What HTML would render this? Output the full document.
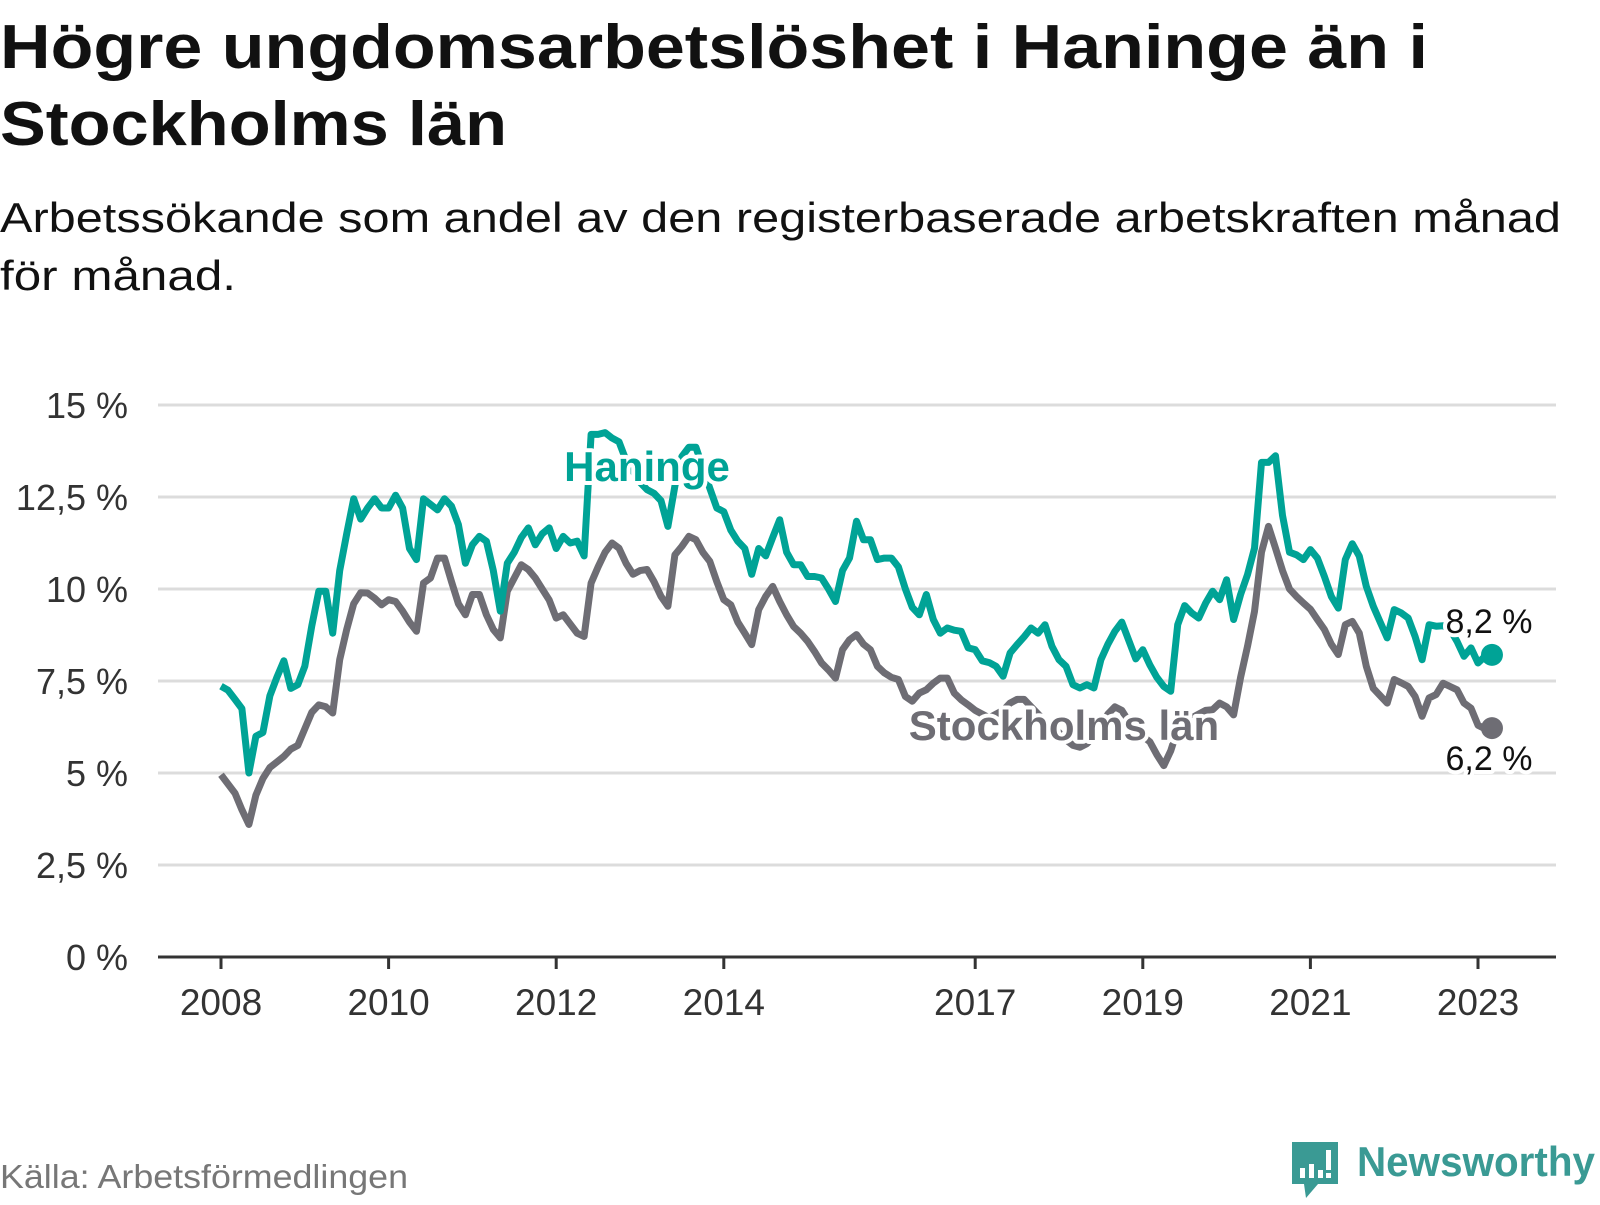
<!DOCTYPE html>
<html><head><meta charset="utf-8"><style>
html,body{margin:0;padding:0;background:#fff;}
svg text{font-family:"Liberation Sans",sans-serif;}
</style></head><body>
<svg id="chart" width="1600" height="1200" viewBox="0 0 1600 1200" xmlns="http://www.w3.org/2000/svg">
<text x="0" y="68" font-size="62" font-weight="bold" fill="#111" textLength="1428" lengthAdjust="spacingAndGlyphs">Högre ungdomsarbetslöshet i Haninge än i</text>
<text x="0" y="145" font-size="62" font-weight="bold" fill="#111" textLength="507" lengthAdjust="spacingAndGlyphs">Stockholms län</text>
<text x="0" y="232" font-size="42" fill="#111" textLength="1561" lengthAdjust="spacingAndGlyphs">Arbetssökande som andel av den registerbaserade arbetskraften månad</text>
<text x="0" y="290" font-size="42" fill="#111" textLength="236" lengthAdjust="spacingAndGlyphs">för månad.</text>
<g id="grid"></g>
<g id="yaxis"></g>
<g id="xaxis"></g>
<g id="series"></g>
<g id="labels"></g>
<text x="0" y="1188" font-size="33" fill="#777" textLength="408" lengthAdjust="spacingAndGlyphs">Källa: Arbetsförmedlingen</text>
<g>
<path d="M1292 1142 h46 v42 h-20 l-12 14 l-2 -14 h-12 z" fill="#3a9a94"/>
<rect x="1300" y="1168" width="5" height="10" fill="#fff"/>
<rect x="1309" y="1164" width="5" height="14" fill="#fff"/>
<rect x="1318" y="1170" width="5" height="8" fill="#fff"/>
<rect x="1326" y="1150" width="5" height="20" fill="#fff"/>
<rect x="1326" y="1173" width="5" height="5" fill="#fff"/>
<text x="1357" y="1176" font-size="42" font-weight="bold" fill="#3a9a94" textLength="238" lengthAdjust="spacingAndGlyphs">Newsworthy</text>
</g>
</svg>
<script>
const yTicks = [0, 2.5, 5, 7.5, 10, 12.5, 15];
const yTickLabels = ["0 %", "2,5 %", "5 %", "7,5 %", "10 %", "12,5 %", "15 %"];
const xTickYears = [2008, 2010, 2012, 2014, 2017, 2019, 2021, 2023];
const xTickLabels = ["2008", "2010", "2012", "2014", "2017", "2019", "2021", "2023"];
const startYear = 2008;
const haninge = [7.36,7.25,7.0,6.75,5.0,6.0,6.1,7.1,7.6,8.05,7.3,7.4,
7.9,9.0,9.94,9.94,8.8,10.5,11.5,12.45,11.9,12.2,12.45,12.2,
12.2,12.55,12.2,11.1,10.8,12.45,12.3,12.15,12.45,12.25,11.75,10.7,
11.2,11.43,11.3,10.5,9.4,10.7,11.0,11.4,11.66,11.2,11.5,11.66,
11.1,11.43,11.25,11.3,10.9,14.2,14.2,14.25,14.1,14.0,13.5,13.2,
12.9,12.7,12.6,12.4,11.7,12.8,13.6,13.85,13.85,13.3,12.74,12.2,
12.1,11.6,11.3,11.1,10.4,11.1,10.9,11.4,11.88,11.0,10.66,10.66,
10.34,10.34,10.3,10.0,9.66,10.5,10.84,11.84,11.34,11.34,10.8,10.84,
10.84,10.6,10.0,9.5,9.3,9.85,9.17,8.8,8.94,8.88,8.85,8.4,
8.35,8.05,8.0,7.9,7.63,8.26,8.49,8.7,8.94,8.8,9.03,8.44,
8.08,7.9,7.4,7.31,7.4,7.31,8.08,8.5,8.85,9.1,8.6,8.1,
8.35,7.94,7.6,7.35,7.22,9.03,9.55,9.35,9.21,9.62,9.94,9.71,
10.25,9.17,9.85,10.39,11.11,13.44,13.44,13.62,12.0,11.0,10.93,10.8,
11.07,10.84,10.34,9.8,9.48,10.8,11.23,10.89,10.07,9.53,9.1,8.67,
9.44,9.35,9.21,8.71,8.08,9.03,8.99,9.0,8.9,8.58,8.17,8.4,
7.99,8.17,8.21];
const stockholm = [4.95,4.7,4.45,4.0,3.6,4.4,4.85,5.15,5.3,5.45,5.65,5.75,
6.2,6.65,6.85,6.8,6.63,8.08,8.9,9.6,9.9,9.89,9.75,9.57,
9.71,9.66,9.4,9.1,8.85,10.16,10.3,10.84,10.84,10.2,9.6,9.3,
9.85,9.85,9.3,8.9,8.67,9.94,10.3,10.66,10.53,10.3,10.0,9.7,
9.21,9.3,9.05,8.8,8.71,10.16,10.6,11.0,11.25,11.11,10.7,10.4,
10.5,10.53,10.2,9.8,9.53,10.93,11.16,11.43,11.34,11.0,10.75,10.2,
9.71,9.57,9.1,8.8,8.49,9.44,9.8,10.07,9.66,9.3,8.98,8.8,
8.58,8.3,7.99,7.8,7.58,8.35,8.62,8.76,8.5,8.35,7.9,7.72,
7.6,7.54,7.08,6.95,7.17,7.26,7.44,7.58,7.58,7.17,6.99,6.85,
6.7,6.6,6.5,6.6,6.7,6.9,7.0,7.0,6.8,6.6,6.4,6.2,
6.1,5.9,5.75,5.7,5.8,6.0,6.3,6.6,6.8,6.7,6.4,6.2,
6.0,5.85,5.5,5.2,5.6,6.2,6.4,6.5,6.6,6.7,6.72,6.9,
6.8,6.58,7.6,8.44,9.39,11.0,11.7,11.11,10.5,10.0,9.8,9.62,
9.45,9.17,8.9,8.5,8.22,9.03,9.12,8.8,7.9,7.3,7.1,6.9,
7.54,7.45,7.35,7.08,6.54,7.04,7.13,7.44,7.35,7.26,6.9,6.76,
6.3,6.2,6.22];
const endLabels = ["8,2 %", "6,2 %"];

const NS = "http://www.w3.org/2000/svg";
const y0 = 957, pxPerPct = 36.8;
const x0 = 221, pxPerYear = 83.8;
function yScale(v){ return y0 - v * pxPerPct; }
function xYear(y){ return x0 + (y - startYear) * pxPerYear; }
function xMonth(i){ return x0 + i * pxPerYear / 12; }
function mk(tag, attrs, parent){ const e = document.createElementNS(NS, tag); for (const k in attrs) e.setAttribute(k, attrs[k]); parent.appendChild(e); return e; }

const grid = document.getElementById('grid');
const yax = document.getElementById('yaxis');
yTicks.forEach((t, i) => {
  if (t > 0) {
    const l = mk('line', {x1: 158, x2: 1556, y1: yScale(t), y2: yScale(t), stroke: '#dcdcdc', 'stroke-width': 3}, grid);
    
    
  }
  const tx = mk('text', {x: 128, y: yScale(t) + 13, 'font-size': 36, fill: '#333', 'text-anchor': 'end'}, yax);
  tx.textContent = yTickLabels[i];
  
  
});
const xax = document.getElementById('xaxis');
const axisLine = mk('line', {x1: 158, x2: 1556, y1: y0, y2: y0, stroke: '#333', 'stroke-width': 3}, xax);


xTickYears.forEach((yr, i) => {
  const x = xYear(yr);
  const tk = mk('line', {x1: x, x2: x, y1: y0, y2: y0 + 12, stroke: '#333', 'stroke-width': 3}, xax);
  
  
  const tx = mk('text', {x: x, y: 1015, 'font-size': 37, fill: '#333', 'text-anchor': 'middle'}, xax);
  tx.textContent = xTickLabels[i];
  
  
});

const ser = document.getElementById('series');
function drawLine(vals, color, name){
  const d = vals.map((v, i) => (i ? 'L' : 'M') + xMonth(i).toFixed(1) + ' ' + yScale(v).toFixed(1)).join(' ');
  const p = mk('path', {d: d, fill: 'none', stroke: color, 'stroke-width': 7, 'stroke-linejoin': 'round'}, ser);
  
  
  const n = vals.length - 1;
  const c = mk('circle', {cx: xMonth(n), cy: yScale(vals[n]), r: 11, fill: color}, ser);
  
  
}
drawLine(stockholm, '#6e6d74', 'stockholm');
drawLine(haninge, '#00a396', 'haninge');

const lab = document.getElementById('labels');
function label(txt, x, y, size, weight, color, anchor, name){
  const t = mk('text', {x: x, y: y, 'font-size': size, 'font-weight': weight, fill: color, 'text-anchor': anchor, stroke: '#fff', 'stroke-width': 8, 'paint-order': 'stroke', 'stroke-linejoin': 'round'}, lab);
  t.textContent = txt;
  
  
}
label('Haninge', 647, 481, 42, 'bold', '#00a396', 'middle', 'haninge-label');
label('Stockholms län', 1064, 740, 42, 'bold', '#6e6d74', 'middle', 'stockholm-label');
const nEnd = haninge.length - 1;
label(endLabels[0], xMonth(nEnd) - 3, yScale(haninge[nEnd]) - 22, 34, 'normal', '#111', 'middle', 'haninge-end-value');
label(endLabels[1], xMonth(nEnd) - 3, yScale(stockholm[nEnd]) + 42, 34, 'normal', '#111', 'middle', 'stockholm-end-value');
</script>
</body></html>
